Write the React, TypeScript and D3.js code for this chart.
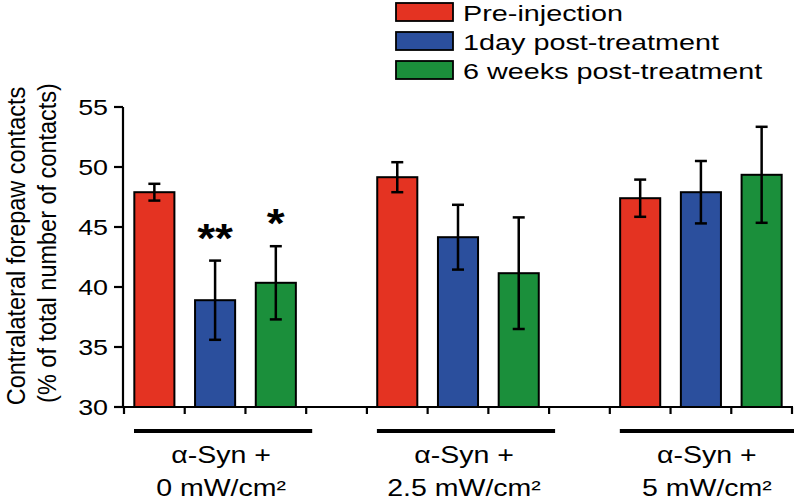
import React from "react";
import * as d3 from "d3";

const groups = ["0 mW/cm²", "2.5 mW/cm²", "5 mW/cm²"];
const groupPrefix = "α-Syn +";
const seriesNames = ["Pre-injection", "1day post-treatment", "6 weeks post-treatment"];
const seriesColors = ["#e43322", "#2b4f9d", "#1b8f3b"];
const preValues = [47.9, 49.15, 47.4];
const preErrors = [0.7, 1.25, 1.55];
const day1Values = [38.9, 44.15, 47.9];
const day1Errors = [3.3, 2.7, 2.6];
const week6Values = [40.35, 41.15, 49.35];
const week6Errors = [3.05, 4.65, 4.0];
const day1Stars = ["**", "", ""];
const week6Stars = ["*", "", ""];
const yTicks = [30, 35, 40, 45, 50, 55];
const yLabel1 = "Contralateral forepaw contacts";
const yLabel2 = "(% of total number of contacts)";

const W = 797;
const H = 501;
const FONT = "'Liberation Sans', Arial, Helvetica, sans-serif";

export default function App() {
  const series = [
    { values: preValues, errors: preErrors, stars: ["", "", ""] },
    { values: day1Values, errors: day1Errors, stars: day1Stars },
    { values: week6Values, errors: week6Errors, stars: week6Stars },
  ];
  const nSlots = groups.length * 4 - 1;
  const slots = d3.range(nSlots);
  const x = d3.scaleBand<number>().domain(slots).range([124, 792]).padding(0);
  const step = x.step();
  const barW = step * 0.66;
  const y = d3.scaleLinear().domain([30, 55]).range([407, 107]);

  const bars: any[] = [];
  groups.forEach((g, gi) => {
    series.forEach((s, si) => {
      const slot = gi * 4 + si;
      bars.push({
        key: `${gi}-${si}`,
        cx: (x(slot) as number) + step / 2,
        v: s.values[gi],
        e: s.errors[gi],
        star: s.stars[gi],
        color: seriesColors[si],
      });
    });
  });

  const boundaries = d3.range(nSlots + 1).map((i) => 124 + i * step);

  return (
    <svg
      width={W}
      height={H}
      style={{ position: "absolute", left: 0, top: 0, background: "#fff" }}
      fontFamily={FONT}
    >
      <rect width={W} height={H} fill="#fff" />
      {/* Y axis label */}
      <text
        transform={`translate(25,246) rotate(-90) scale(1,1.1)`}
        textAnchor="middle"
        fontSize={23.5}
        fill="#000"
      >
        {yLabel1}
      </text>
      <text
        transform={`translate(56,243) rotate(-90) scale(1,1.1)`}
        textAnchor="middle"
        fontSize={23.5}
        fill="#000"
      >
        {yLabel2}
      </text>

      {/* Y axis */}
      <line x1={123} x2={123} y1={y(55)} y2={y(30) + 1} stroke="#000" strokeWidth={2.2} />
      {yTicks.map((t) => (
        <g key={t}>
          <line x1={114} x2={123} y1={y(t)} y2={y(t)} stroke="#000" strokeWidth={2.2} />
          <text
            transform={`translate(108,${y(t) + 8}) scale(1.22,1)`}
            textAnchor="end"
            fontSize={22}
            fill="#000"
          >
            {t}
          </text>
        </g>
      ))}

      {/* bars */}
      {bars.map((b) => (
        <g key={b.key}>
          <rect
            x={b.cx - barW / 2}
            y={y(b.v)}
            width={barW}
            height={y(30) - y(b.v)}
            fill={b.color}
            stroke="#000"
            strokeWidth={2}
          />
          <line x1={b.cx} x2={b.cx} y1={y(b.v + b.e)} y2={y(b.v - b.e)} stroke="#000" strokeWidth={2.5} />
          <line x1={b.cx - 6} x2={b.cx + 6} y1={y(b.v + b.e)} y2={y(b.v + b.e)} stroke="#000" strokeWidth={2.5} />
          <line x1={b.cx - 6} x2={b.cx + 6} y1={y(b.v - b.e)} y2={y(b.v - b.e)} stroke="#000" strokeWidth={2.5} />
          {b.star && (
            <text
              transform={`translate(${b.cx},${y(b.v + b.e) - 9}) scale(1.15,1)`}
              textAnchor="middle"
              fontSize={40}
              fontWeight="bold"
              fill="#000"
            >
              {b.star}
            </text>
          )}
        </g>
      ))}

      {/* X axis */}
      <line x1={122} x2={793} y1={407} y2={407} stroke="#000" strokeWidth={2.2} />
      {boundaries.map((bx, i) => (
        <line key={i} x1={bx} x2={bx} y1={407} y2={414} stroke="#000" strokeWidth={2.2} />
      ))}

      {/* group underlines and labels */}
      {groups.map((g, gi) => {
        const x0 = x(gi * 4) as number;
        const x1 = (x(gi * 4 + 2) as number) + step;
        const cx = (x0 + x1) / 2;
        return (
          <g key={g}>
            <line x1={x0 + 10} x2={Math.min(x1 + 6, 794)} y1={431} y2={431} stroke="#000" strokeWidth={4} />
            <text
              transform={`translate(${cx + 6},463) scale(1.24,1)`}
              textAnchor="middle"
              fontSize={23}
              fill="#000"
            >
              {groupPrefix}
            </text>
            <text
              transform={`translate(${cx + 6},496) scale(1.24,1)`}
              textAnchor="middle"
              fontSize={23}
              fill="#000"
            >
              {g}
            </text>
          </g>
        );
      })}

      {/* legend */}
      {seriesNames.map((s, i) => (
        <g key={s} transform={`translate(0,${i * 29})`}>
          <rect x={396} y={3} width={57} height={18} fill={seriesColors[i]} stroke="#000" strokeWidth={1.8} />
          <text transform={`translate(463,20.5) scale(1.28,1)`} fontSize={22.5} fill="#000">
            {s}
          </text>
        </g>
      ))}
    </svg>
  );
}
